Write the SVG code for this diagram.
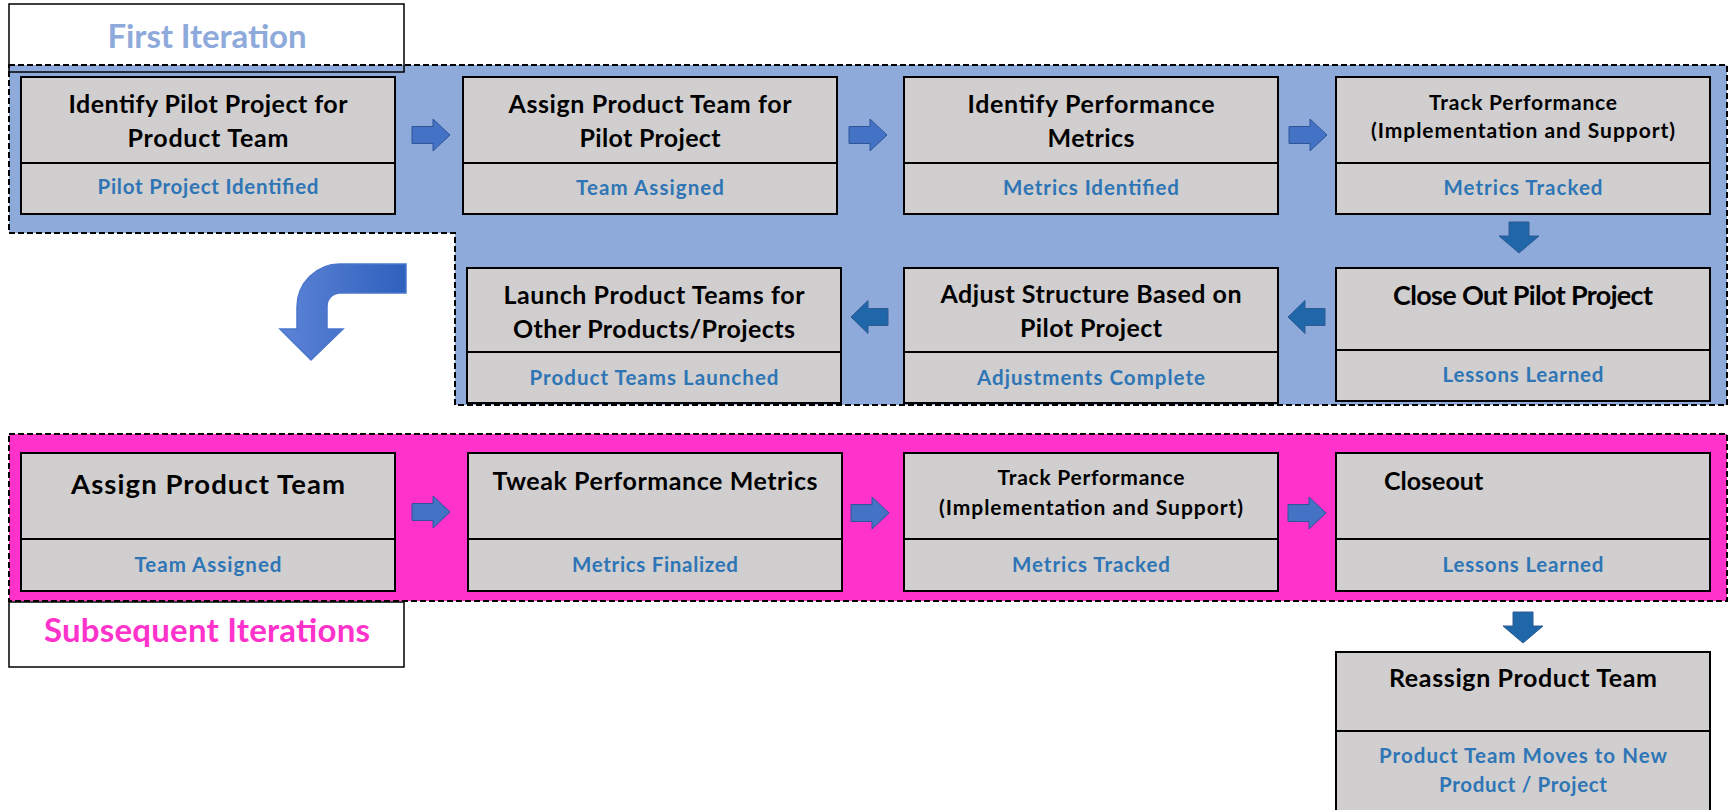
<svg xmlns="http://www.w3.org/2000/svg" width="1731" height="810" viewBox="0 0 1731 810">
<style>
.bg{fill:#ffffff}
.node rect{fill:#d0cece;stroke:#000;stroke-width:2}
.h{font-family:Lato,"Liberation Sans",sans-serif;font-weight:bold;fill:#000;text-anchor:middle}
.s{font-family:Lato,"Liberation Sans",sans-serif;font-weight:bold;fill:#2e75b6;text-anchor:middle;font-size:20.5px}
.region{stroke:#000;stroke-width:2;stroke-dasharray:6 3}
.lbl{fill:none;stroke:#000;stroke-width:1.5}
.ttl{font-family:Lato,"Liberation Sans",sans-serif;font-weight:bold;font-size:33px;text-anchor:middle}
.ra{fill:#4472c4;stroke:#2f5597;stroke-width:1}
.la{fill:#1f67a8;stroke:#2e5b92;stroke-width:1}
</style>
<defs>
<path id="rarrow" d="M0,-8.5 H21 V-16 L38,0 L21,16 V8.5 H0 Z"/>
<path id="larrow" d="M0,0 L17,-16.5 V-8.5 H37 V8.5 H17 V16.5 Z"/>
<path id="darrow" d="M-10,0 H10 V14 H20 L0,31 L-20,14 H-10 Z"/>
<linearGradient id="cg" x1="0" y1="0" x2="1" y2="0">
<stop offset="0" stop-color="#5d84d6"/>
<stop offset="1" stop-color="#2e60bd"/>
</linearGradient>
</defs>
<rect class="bg" x="0" y="0" width="1731" height="810"/>

<g id="first-iteration">
<path class="region" d="M9,65 H1727 V405 H455 V233 H9 Z" fill="#8eaadb"/>
<rect class="lbl" x="9" y="4" width="395" height="68"/>
<text class="ttl" x="207" y="48" fill="#8eaadb" textLength="199">First Iteration</text>
</g>

<g id="subsequent-iterations">
<rect class="region" x="9" y="434" width="1718" height="167" fill="#ff33cc"/>
<rect class="lbl" x="9" y="602" width="395" height="65"/>
<text class="ttl" x="207" y="642" fill="#ff33cc" textLength="326">Subsequent Iterations</text>
</g>

<g id="connectors">
<use href="#rarrow" class="ra" x="412" y="135"/>
<use href="#rarrow" class="ra" x="849" y="135"/>
<use href="#rarrow" class="ra" x="1289" y="135"/>
<use href="#darrow" class="la" x="1519" y="222"/>
<use href="#larrow" class="la" x="1288" y="317"/>
<use href="#larrow" class="la" x="851" y="317"/>
<path d="M406,264 H340 A43,43 0 0 0 297,307 V329 H280 L311,360 L343,329 H327 V306 A13,13 0 0 1 340,293 H406 Z" fill="url(#cg)" stroke="#4a76cc" stroke-width="1.5"/>
<use href="#rarrow" class="ra" x="412" y="512"/>
<use href="#rarrow" class="ra" x="851" y="513"/>
<use href="#rarrow" class="ra" x="1288" y="513"/>
<use href="#darrow" class="la" x="1523" y="612"/>
</g>

<g id="n1" class="node">
<rect x="21" y="77" width="374" height="86"/><rect x="21" y="163" width="374" height="51"/>
<text class="h" font-size="25" x="208" y="113" textLength="279">Identify Pilot Project for</text>
<text class="h" font-size="25" x="208" y="147" textLength="161">Product Team</text>
<text class="s" x="208" y="194" textLength="221">Pilot Project Identified</text>
</g>
<g id="n2" class="node">
<rect x="463" y="77" width="374" height="86"/><rect x="463" y="163" width="374" height="51"/>
<text class="h" font-size="25" x="650" y="113" textLength="283">Assign Product Team for</text>
<text class="h" font-size="25" x="650" y="147" textLength="141">Pilot Project</text>
<text class="s" x="650" y="195" textLength="148">Team Assigned</text>
</g>
<g id="n3" class="node">
<rect x="904" y="77" width="374" height="86"/><rect x="904" y="163" width="374" height="51"/>
<text class="h" font-size="25" x="1091" y="113" textLength="247">Identify Performance</text>
<text class="h" font-size="25" x="1091" y="147" textLength="87">Metrics</text>
<text class="s" x="1091" y="195" textLength="176">Metrics Identified</text>
</g>
<g id="n4" class="node">
<rect x="1336" y="77" width="374" height="86"/><rect x="1336" y="163" width="374" height="51"/>
<text class="h" font-size="21" x="1523" y="110" textLength="188">Track Performance</text>
<text class="h" font-size="21" x="1523" y="138" textLength="304">(Implementation and Support)</text>
<text class="s" x="1523" y="195" textLength="159">Metrics Tracked</text>
</g>
<g id="n5" class="node">
<rect x="1336" y="268" width="374" height="82"/><rect x="1336" y="350" width="374" height="51"/>
<text class="h" font-size="27" x="1523" y="305" textLength="260">Close Out Pilot Project</text>
<text class="s" x="1523" y="382" textLength="161">Lessons Learned</text>
</g>
<g id="n6" class="node">
<rect x="904" y="268" width="374" height="84"/><rect x="904" y="352" width="374" height="51"/>
<text class="h" font-size="25" x="1091" y="303" textLength="301">Adjust Structure Based on</text>
<text class="h" font-size="25" x="1091" y="337" textLength="142">Pilot Project</text>
<text class="s" x="1091" y="385" textLength="228">Adjustments Complete</text>
</g>
<g id="n7" class="node">
<rect x="467" y="268" width="374" height="84"/><rect x="467" y="352" width="374" height="51"/>
<text class="h" font-size="25" x="654" y="304" textLength="301">Launch Product Teams for</text>
<text class="h" font-size="25" x="654" y="338" textLength="282">Other Products/Projects</text>
<text class="s" x="654" y="385" textLength="249">Product Teams Launched</text>
</g>
<g id="n8" class="node">
<rect x="21" y="453" width="374" height="86"/><rect x="21" y="539" width="374" height="52"/>
<text class="h" font-size="27.5" x="208" y="494" textLength="274">Assign Product Team</text>
<text class="s" x="208" y="572" textLength="147">Team Assigned</text>
</g>
<g id="n9" class="node">
<rect x="468" y="453" width="374" height="86"/><rect x="468" y="539" width="374" height="52"/>
<text class="h" font-size="25" x="655" y="490" textLength="325">Tweak Performance Metrics</text>
<text class="s" x="655" y="572" textLength="166">Metrics Finalized</text>
</g>
<g id="n10" class="node">
<rect x="904" y="453" width="374" height="86"/><rect x="904" y="539" width="374" height="52"/>
<text class="h" font-size="21" x="1091" y="485" textLength="187">Track Performance</text>
<text class="h" font-size="21" x="1091" y="515" textLength="304">(Implementation and Support)</text>
<text class="s" x="1091" y="572" textLength="158">Metrics Tracked</text>
</g>
<g id="n11" class="node">
<rect x="1336" y="453" width="374" height="86"/><rect x="1336" y="539" width="374" height="52"/>
<text class="h" font-size="25" x="1384" y="490" style="text-anchor:start">Closeout</text>
<text class="s" x="1523" y="572" textLength="161">Lessons Learned</text>
</g>
<g id="n12" class="node">
<rect x="1336" y="652" width="374" height="79"/><rect x="1336" y="731" width="374" height="90"/>
<text class="h" font-size="25" x="1523" y="687" textLength="268">Reassign Product Team</text>
<text class="s" x="1523" y="763" textLength="288">Product Team Moves to New</text>
<text class="s" x="1523" y="792" textLength="168">Product / Project</text>
</g>
</svg>
